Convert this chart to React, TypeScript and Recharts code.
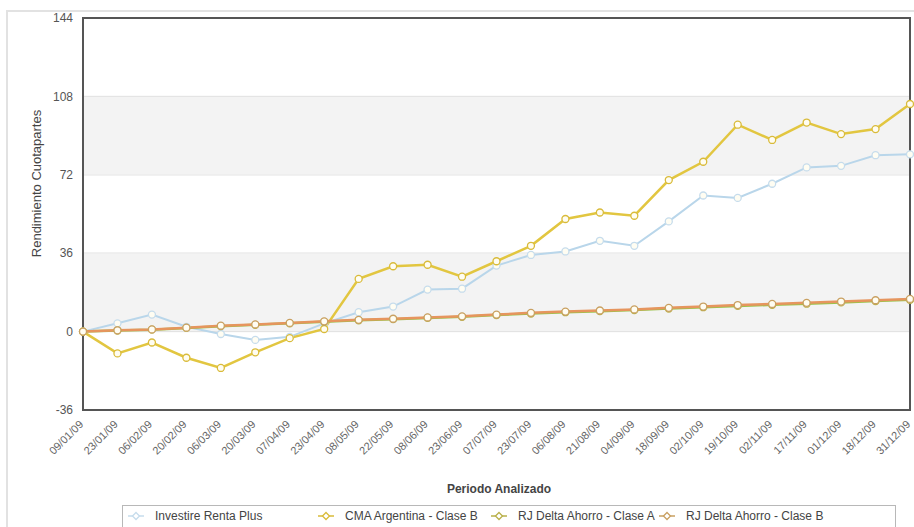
import React from "react";
import {
  LineChart,
  Line,
  XAxis,
  YAxis,
  CartesianGrid,
  ReferenceArea,
} from "recharts";

// Fechas del periodo analizado
const dates = [
  "09/01/09", "23/01/09", "06/02/09", "20/02/09", "06/03/09", "20/03/09",
  "07/04/09", "23/04/09", "08/05/09", "22/05/09", "08/06/09", "23/06/09",
  "07/07/09", "23/07/09", "06/08/09", "21/08/09", "04/09/09", "18/09/09",
  "02/10/09", "19/10/09", "02/11/09", "17/11/09", "01/12/09", "18/12/09",
  "31/12/09",
];

const investire = [
  0, 3.8, 7.8, 2.2, -1.1, -3.8, -2.4, 3.8, 8.9, 11.5, 19.3, 19.7, 30.3,
  35.2, 36.8, 41.7, 39.4, 50.6, 62.5, 61.4, 67.9, 75.4, 76.1, 81, 81.4,
];

const cma = [
  0, -10, -5, -12, -16.7, -9.5, -3, 1.2, 24.2, 30, 30.7, 25.2, 32.3, 39.4,
  51.7, 54.7, 53.2, 69.6, 78, 95, 88, 96, 90.7, 93, 104.5,
];

const deltaA = [
  0, 0.5, 0.9, 1.7, 2.5, 3.1, 3.8, 4.5, 5.2, 5.7, 6.3, 6.8, 7.6, 8.3, 8.9,
  9.4, 9.9, 10.6, 11.2, 11.8, 12.3, 12.8, 13.4, 14, 14.6,
];

const deltaB = [
  0, 0.6, 1, 1.8, 2.7, 3.3, 4, 4.7, 5.4, 5.9, 6.5, 7, 7.8, 8.6, 9.2, 9.7,
  10.2, 10.9, 11.5, 12.2, 12.7, 13.2, 13.8, 14.4, 15,
];

const yTicks = [-36, 0, 36, 72, 108, 144];

const SERIES = [
  { key: "investire", name: "Investire Renta Plus", color: "#b9d6ea", dot: "#c6dcec" },
  { key: "cma", name: "CMA Argentina - Clase B", color: "#e2c640", dot: "#d9bb3a" },
  { key: "deltaA", name: "RJ Delta Ahorro - Clase A", color: "#9cc24a", dot: "#b9b04a" },
  { key: "deltaB", name: "RJ Delta Ahorro - Clase B", color: "#e6955e", dot: "#c9a062" },
];

const data = dates.map((d, i) => ({
  date: d,
  investire: investire[i],
  cma: cma[i],
  deltaA: deltaA[i],
  deltaB: deltaB[i],
}));

const FONT = "'Liberation Sans', Arial, sans-serif";

function XTick(props: any) {
  const { x, y, payload } = props;
  return (
    <g transform={`translate(${x + 1},${y + 7})`}>
      <text
        textAnchor="end"
        transform="rotate(-45)"
        fontSize={11}
        fill="#666"
        fontFamily={FONT}
      >
        {payload.value}
      </text>
    </g>
  );
}

function LegendMark({ color }: { color: string }) {
  return (
    <svg width={16} height={10} style={{ marginRight: 11 }}>
      <line x1={0} y1={5} x2={16} y2={5} stroke={color} strokeWidth={1.5} />
      <path d="M8 1.5 L11.5 5 L8 8.5 L4.5 5 Z" fill="#fff" stroke={color} strokeWidth={1.3} />
    </svg>
  );
}

export default function App() {
  return (
    <div
      style={{
        position: "absolute",
        left: 0,
        top: 0,
        width: 914,
        height: 527,
        background: "#fff",
        overflow: "hidden",
        fontFamily: FONT,
      }}
    >
      <div
        style={{
          position: "absolute",
          left: 6,
          top: 10,
          width: 920,
          height: 530,
          border: "2px solid #e2e2e2",
          boxSizing: "border-box",
        }}
      />
      <div style={{ position: "absolute", left: 0, top: 0 }}>
        <LineChart
          width={914}
          height={527}
          data={data}
          margin={{ top: 18, right: 4, left: 0, bottom: 47 }}
        >
          <ReferenceArea y1={0} y2={36} fill="#f3f3f3" fillOpacity={1} stroke="none" />
          <ReferenceArea y1={72} y2={108} fill="#f3f3f3" fillOpacity={1} stroke="none" />
          <CartesianGrid vertical={false} stroke="#cfcfcf" strokeWidth={1} />
          <XAxis
            dataKey="date"
            interval={0}
            height={70}
            tick={<XTick />}
            tickLine={false}
            axisLine={{ stroke: "#555", strokeWidth: 2 }}
            padding={{ left: 0, right: 0 }}
          />
          <YAxis
            width={83}
            domain={[-36, 144]}
            ticks={yTicks}
            interval={0}
            tickLine={false}
            axisLine={{ stroke: "#555", strokeWidth: 2 }}
            tick={{ fontSize: 12, fill: "#555", fontFamily: FONT }}
            tickMargin={4}
          />
          <ReferenceArea
            y1={-36}
            y2={144}
            fill="none"
            stroke="#555"
            strokeWidth={2}
          />
          {SERIES.map((s) => (
            <Line
              key={s.key}
              type="linear"
              dataKey={s.key}
              name={s.name}
              stroke={s.color}
              strokeWidth={s.key === "investire" ? 2 : 2.5}
              dot={{ r: 3.5, fill: "#fffdf2", stroke: s.dot, strokeWidth: 1.3 }}
              isAnimationActive={false}
            />
          ))}
        </LineChart>
      </div>
      <div
        style={{
          position: "absolute",
          left: 17,
          top: 103,
          width: 40,
          height: 160,
          display: "flex",
          alignItems: "center",
          justifyContent: "center",
        }}
      >
        <div
          style={{
            transform: "rotate(-90deg)",
            whiteSpace: "nowrap",
            fontSize: 13,
            color: "#444",
          }}
        >
          Rendimiento Cuotapartes
        </div>
      </div>
      <div
        style={{
          position: "absolute",
          left: 399,
          top: 482,
          width: 200,
          textAlign: "center",
          fontSize: 12,
          fontWeight: "bold",
          color: "#444",
        }}
      >
        Periodo Analizado
      </div>
      <div
        style={{
          position: "absolute",
          left: 122,
          top: 505,
          width: 774,
          height: 30,
          border: "1px solid #b8b8b8",
          boxSizing: "border-box",
          fontSize: 12,
          color: "#444",
        }}
      >
        {SERIES.map((s, i) => (
          <div
            key={s.key}
            style={{
              position: "absolute",
              left: [5, 195, 368, 536][i],
              top: 3,
              display: "flex",
              alignItems: "center",
              whiteSpace: "nowrap",
            }}
          >
            <LegendMark color={s.dot} />
            {s.name}
          </div>
        ))}
      </div>
    </div>
  );
}
